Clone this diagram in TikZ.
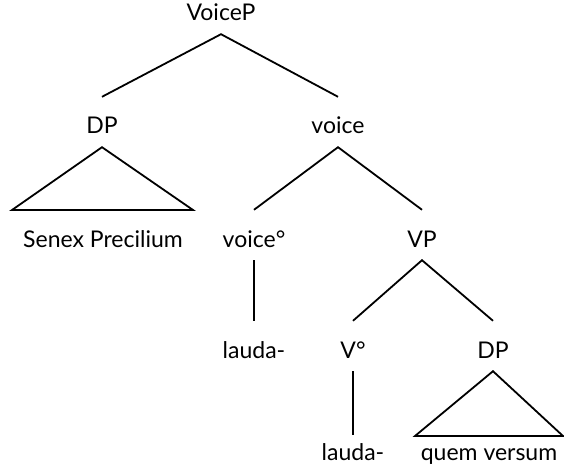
\documentclass[tikz,border=0pt]{standalone}
\usepackage{fontspec}
\setmainfont{Lato}
\usepackage{tikz}
\usetikzlibrary{positioning}

\begin{document}
\begin{tikzpicture}[
    x=1pt, y=1pt,
    font=\fontsize{23}{27}\selectfont,
    cat/.style={
        anchor=base, inner sep=0pt,
        text height=37pt, text depth=13pt
    },
    leaf/.style={cat, text height=25pt},
    branch/.style={line width=1.8pt, line join=miter}
]
\useasboundingbox (0,0) rectangle (564,469);

% Labels, row by row
\node[cat] (voicep) at (221, 448) {VoiceP};
\node[cat] (dpa)    at (102, 335) {DP};
\node[cat] (voice)  at (338, 335) {voice};
\node[cat] (senex)  at (103, 222) {Senex Precilium};
\node[cat] (voiceh) at (254, 222) {voice°};
\node[cat] (vp)     at (422, 222) {VP};
\node[cat] (laudaa) at (254, 111) {lauda-};
\node[cat] (vh)     at (353, 111) {V°};
\node[cat] (dpb)    at (493, 111) {DP};
\node[leaf] (laudab) at (353, 9) {lauda-};
\node[leaf] (quem)   at (489, 9) {quem versum};

% Triangle corners
\coordinate (senexL) at (12, 259);
\coordinate (senexR) at (193, 259);
\coordinate (quemL)  at (415, 33);
\coordinate (quemR)  at (563, 33);

% Branches
\draw[branch] (dpa.north) -- (voicep.south) -- (voice.north);
\draw[branch] (voiceh.north) -- (voice.south) -- (vp.north);
\draw[branch] (vh.north) -- (vp.south) -- (dpb.north);
\draw[branch] (voiceh.south) -- (laudaa.north);
\draw[branch] (vh.south) -- (laudab.north);

% Triangles
\draw[branch] (dpa.south) -- (senexL) -- (senexR) -- cycle;
\draw[branch] (dpb.south) -- (quemL) -- (quemR) -- cycle;

\end{tikzpicture}
\end{document}
